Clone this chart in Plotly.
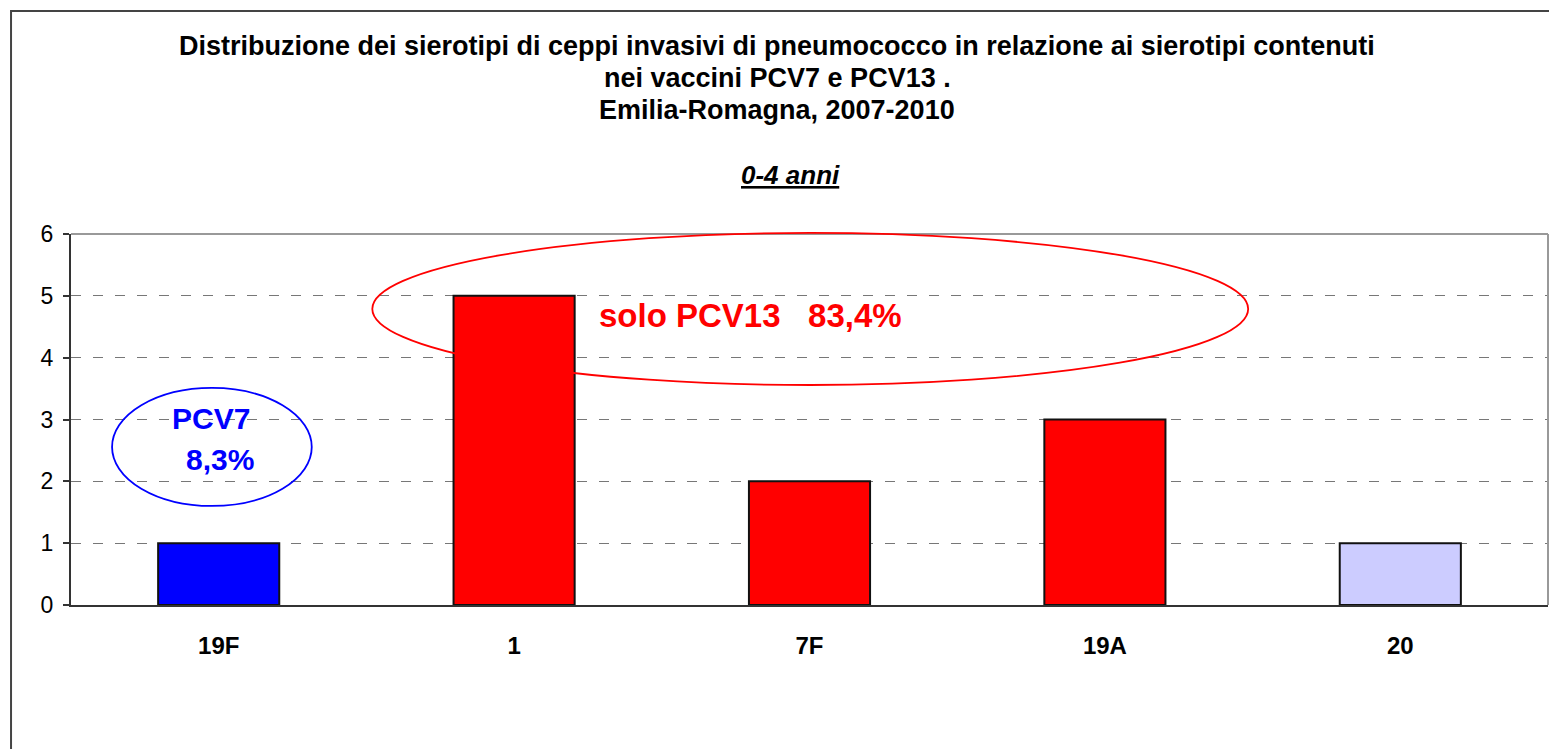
import plotly.graph_objects as go

# serotypes (x categories) and number of invasive strains
serotypes = ["19F", "1", "7F", "19A", "20"]
counts = [1, 5, 2, 3, 1]
bar_colors = ["#0000FF", "#FF0000", "#FF0000", "#FF0000", "#CCCCFF"]

title_lines = [
    "Distribuzione dei sierotipi di ceppi invasivi di pneumococco in relazione ai sierotipi contenuti",
    "nei vaccini PCV7 e PCV13 .",
    "Emilia-Romagna, 2007-2010",
]
subtitle = "0-4 anni"

FONT = "Liberation Sans, Arial, sans-serif"

fig = go.Figure()
fig.add_trace(go.Bar(
    x=serotypes,
    y=counts,
    marker=dict(color=bar_colors, line=dict(color="#111111", width=2)),
    width=0.41,
    showlegend=False,
    hoverinfo="x+y",
))

# outer chart frame and plot-area border
shapes = [
    dict(type="rect", xref="paper", yref="paper", x0=-0.0406, x1=1.05, y0=-0.5, y1=1.601,
         line=dict(color="#444444", width=2), layer="below"),
    dict(type="line", xref="paper", yref="paper", x0=0, x1=1, y0=1, y1=1,
         line=dict(color="#999999", width=2)),
    dict(type="line", xref="paper", yref="paper", x0=1, x1=1, y0=0, y1=1,
         line=dict(color="#999999", width=2)),
    # highlight ellipses
    dict(type="circle", xref="paper", yref="paper", x0=0.0278, x1=0.163, y0=0.267, y1=0.585,
         line=dict(color="#0000FF", width=1.8)),
    dict(type="circle", xref="paper", yref="paper", x0=0.204, x1=0.797, y0=0.593, y1=1.003,
         line=dict(color="#FF0000", width=1.8)),
]


def note(text, x, y, size, color):
    return dict(text=text, xref="paper", yref="paper", x=x, y=y, xanchor="center",
                yanchor="middle", showarrow=False,
                font=dict(size=size, color=color, family=FONT))


title_y = [1.507, 1.420, 1.334]
annotations = [note(f"<b>{line}</b>", 0.478, yy, 27, "#000000")
               for line, yy in zip(title_lines, title_y)]
annotations += [
    note(f"<b><i><u>{subtitle}</u></i></b>", 0.487, 1.159, 26, "#000000"),
    note("<b>PCV7</b>", 0.095, 0.502, 30, "#0000FF"),
    note("<b>8,3%</b>", 0.101, 0.391, 30, "#0000FF"),
    note("<b>solo PCV13   83,4%</b>", 0.460, 0.779, 33, "#FF0000"),
]

fig.update_layout(
    width=1549,
    height=741,
    paper_bgcolor="white",
    plot_bgcolor="white",
    margin=dict(l=63, r=9, t=226, b=144),
    font=dict(family=FONT, color="#000000"),
    shapes=shapes,
    annotations=annotations,
    bargap=0.59,
)
fig.update_xaxes(
    showgrid=False,
    showline=True, linecolor="#333333", linewidth=2,
    ticks="", tickfont=dict(size=24, family=FONT),
    tickvals=serotypes, ticktext=[f"<b>{s}</b>" for s in serotypes],
    ticklabelstandoff=18,
)
fig.update_yaxes(
    range=[0, 6], dtick=1,
    showgrid=True, gridcolor="#777777", gridwidth=1, griddash="10px,12px",
    showline=True, linecolor="#333333", linewidth=2,
    ticks="outside", ticklen=6, tickcolor="#333333", tickwidth=2,
    tickfont=dict(size=23, family=FONT),
    ticklabelstandoff=5,
    zeroline=False,
)

fig.write_html("out.html")
